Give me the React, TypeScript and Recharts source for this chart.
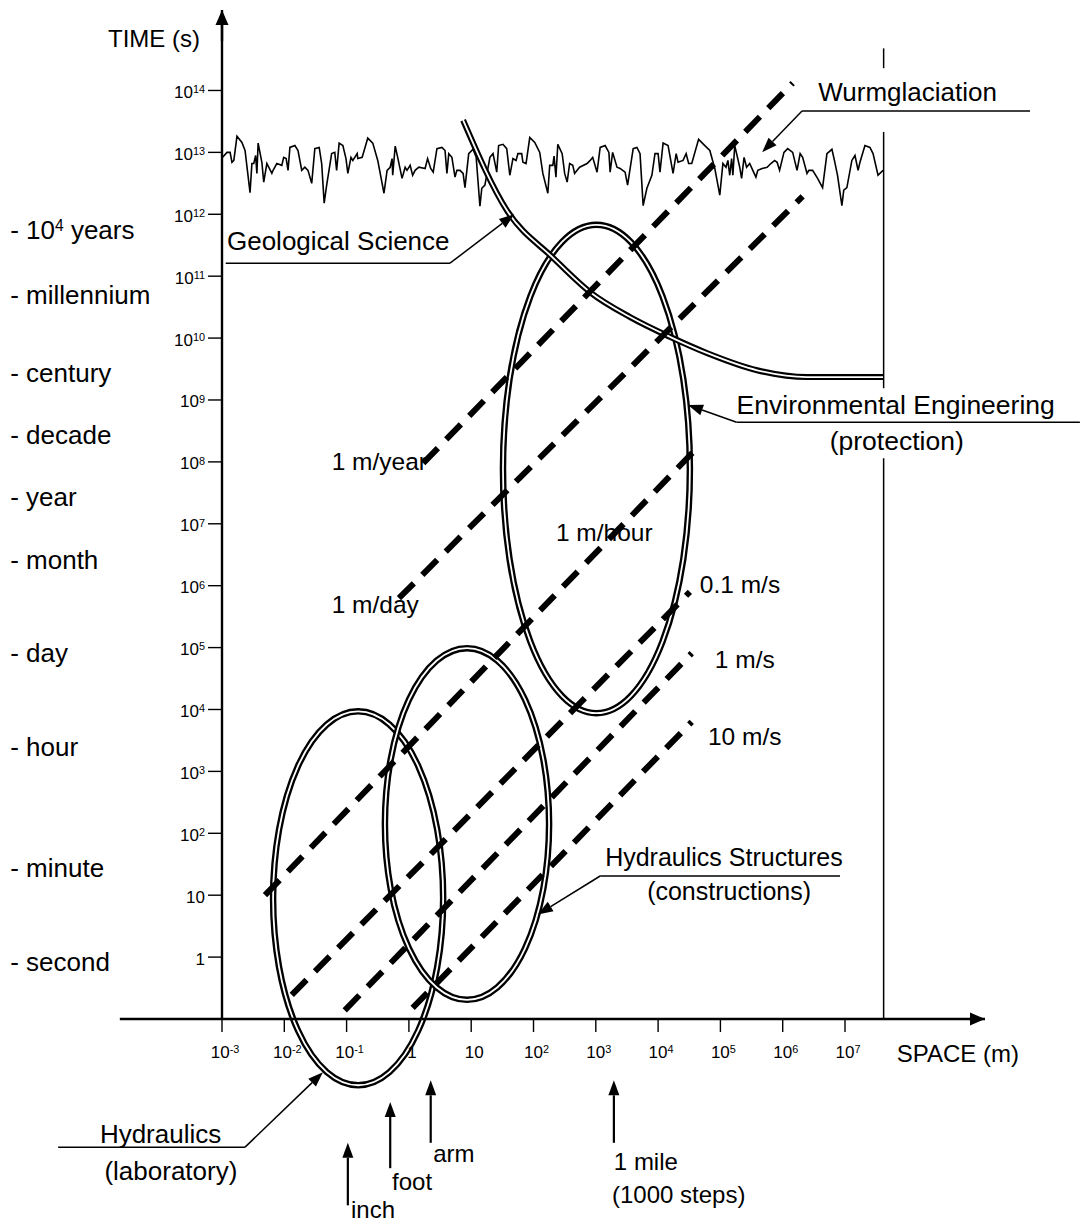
import React from "react";
import {
  ComposedChart, Line, XAxis, YAxis,
  ReferenceArea, ReferenceLine, ReferenceDot,
} from "recharts";

// All coordinates are log10 exponents: space in metres, time in seconds.
const FONT = '"Liberation Sans", Arial, Helvetica, sans-serif';
const INK = "#000";

const SPACE_DOMAIN: [number, number] = [-3, 9.247];
const TIME_DOMAIN: [number, number] = [-1, 15.3];

// ── axis ticks ──
const spaceTicks = [-3, -2, -1, 0, 1, 2, 3, 4, 5, 6, 7];
const timeTicks = [0, 1, 2, 3, 4, 5, 6, 7, 8, 9, 10, 11, 12, 13, 14];

// ── named time scales on the left ──
const timeUnitLabels = [
  "- 10^4 years", "- millennium", "- century", "- decade", "- year",
  "- month", "- day", "- hour", "- minute", "- second",
];
const timeUnitAt = [11.74, 10.69, 9.43, 8.43, 7.43, 6.41, 4.92, 3.4, 1.44, -0.08];

// ── field ellipses: space range x time range ──
const zoneNames = ["Hydraulics (laboratory)", "Hydraulics Structures", "Environmental Engineering"];
const zoneSpace = [[-2.18, 0.55], [-0.385, 2.25], [1.51, 4.51]];
const zoneTime = [[-2.07, 3.97], [-0.69, 4.99], [3.94, 11.83]];

// ── constant-velocity lines (start / end) ──
const speedLabels = ["1 m/year", "1 m/day", "1 m/hour", "0.1 m/s", "1 m/s", "10 m/s"];
const speedFrom = [[0.23, 7.98], [-0.16, 5.8], [-2.31, 1.0], [-1.88, -0.61], [-1.03, -0.86], [0.06, -0.82]];
const speedTo = [[6.16, 14.12], [6.32, 12.29], [4.64, 8.24], [4.51, 5.9], [4.54, 4.91], [4.54, 3.8]];
const speedLabelAt = [[-1.24, 7.87], [-1.24, 5.56], [2.36, 6.72], [4.67, 5.88], [4.91, 4.67], [4.8, 3.42]];

// ── geological science boundary curve ──
const geoSpace = [0.87, 1.575, 2.31, 2.91, 3.55, 4.19, 4.78, 5.59, 6.39, 6.92, 7.61];
const geoTime = [13.52, 12.06, 11.3, 10.74, 10.34, 10.02, 9.76, 9.48, 9.37, 9.37, 9.37];

// ── glacial record (Würm) trace around 10^13 s ──
const noiseSpace = [
  -2.99, -2.92, -2.87, -2.84, -2.81, -2.76, -2.68, -2.63, -2.55, -2.52, -2.49, -2.46, -2.44, -2.42,
  -2.36, -2.33, -2.28, -2.25, -2.2, -2.18, -2.12, -2.04, -2.01, -1.97, -1.94, -1.91, -1.83, -1.78,
  -1.72, -1.67, -1.62, -1.56, -1.51, -1.44, -1.4, -1.36, -1.32, -1.24, -1.19, -1.16, -1.12, -1.06,
  -1.01, -0.98, -0.93, -0.9, -0.83, -0.82, -0.75, -0.66, -0.58, -0.5, -0.4, -0.35, -0.3, -0.27,
  -0.26, -0.22, -0.18, -0.11, -0.06, -0.03, 0.02, 0.06, 0.1, 0.16, 0.26, 0.3, 0.35, 0.39, 0.45,
  0.53, 0.58, 0.61, 0.64, 0.69, 0.74, 0.77, 0.82, 0.87, 0.9, 0.96, 1.03, 1.08, 1.14, 1.17, 1.22,
  1.3, 1.35, 1.41, 1.44, 1.51, 1.57, 1.62, 1.67, 1.72, 1.75, 1.81, 1.83, 1.88, 1.94, 2.02, 2.1,
  2.15, 2.23, 2.26, 2.31, 2.33, 2.36, 2.39, 2.46, 2.5, 2.54, 2.58, 2.63, 2.66, 2.7, 2.74, 2.86,
  2.91, 2.95, 3.02, 3.07, 3.15, 3.21, 3.23, 3.27, 3.34, 3.39, 3.47, 3.51, 3.6, 3.66, 3.71, 3.76,
  3.82, 3.9, 3.95, 4.0, 4.03, 4.08, 4.16, 4.24, 4.29, 4.32, 4.4, 4.45, 4.49, 4.54, 4.65, 4.75,
  4.83, 4.91, 4.99, 5.04, 5.09, 5.12, 5.15, 5.18, 5.2, 5.23, 5.26, 5.31, 5.34, 5.38, 5.42, 5.47,
  5.52, 5.57, 5.6, 5.67, 5.75, 5.81, 5.87, 5.91, 5.95, 6.02, 6.08, 6.16, 6.23, 6.28, 6.32, 6.39,
  6.42, 6.48, 6.56, 6.64, 6.71, 6.79, 6.83, 6.88, 6.95, 6.98, 7.03, 7.11, 7.16, 7.21, 7.24, 7.32,
  7.4, 7.45, 7.53, 7.61,
];
const noiseTime = [
  12.92, 13.0, 13.0, 12.84, 12.87, 13.26, 13.16, 13.03, 12.35, 12.82, 12.82, 12.95, 12.66, 13.15,
  12.84, 12.52, 12.82, 12.76, 12.66, 12.71, 12.82, 12.79, 12.92, 12.9, 12.71, 13.08, 13.11, 13.03,
  12.71, 12.76, 12.71, 12.5, 13.06, 13.08, 12.82, 12.18, 12.47, 12.98, 13.0, 12.71, 13.15, 13.11,
  12.9, 12.66, 12.92, 12.87, 12.98, 12.9, 12.92, 13.23, 13.15, 12.87, 12.34, 12.71, 12.76, 12.9,
  12.63, 13.1, 12.92, 12.58, 12.76, 12.71, 12.79, 12.63, 12.71, 12.76, 12.74, 12.9, 12.74, 12.68, 13.06,
  13.08, 13.03, 12.66, 12.98, 12.92, 12.6, 12.71, 12.71, 12.66, 12.43, 12.98, 13.05, 12.92, 12.13, 12.42, 12.47,
  12.92, 12.98, 12.68, 13.11, 13.13, 13.06, 12.63, 12.9, 12.87, 12.98, 12.98, 12.84, 12.82, 13.24, 13.16, 13.0,
  12.66, 12.34, 12.79, 12.79, 12.94, 12.6, 13.13, 12.98, 12.66, 12.52, 12.82, 12.79, 12.66, 12.71, 12.76, 12.82,
  12.87, 12.92, 12.68, 13.08, 13.11, 13.0, 12.68, 13.0, 12.76, 12.74, 12.68, 12.47, 13.06, 13.08, 12.98, 12.14,
  12.42, 12.63, 12.98, 12.98, 12.68, 13.15, 13.11, 12.66, 12.98, 12.84, 12.87, 12.98, 12.82, 12.82, 13.21, 13.11,
  13.03, 12.74, 12.31, 12.82, 12.76, 12.87, 12.63, 12.9, 12.63, 13.11, 12.98, 12.76, 12.58, 12.92, 12.76, 12.82,
  12.71, 12.6, 12.71, 12.74, 12.76, 12.82, 12.87, 12.84, 12.71, 13.0, 13.06, 13.0, 12.71, 12.98, 12.92, 12.66,
  12.71, 12.71, 12.58, 12.43, 12.98, 13.05, 12.87, 12.63, 12.14, 12.39, 12.43, 12.87, 12.95, 12.71, 12.84, 13.11,
  13.08, 12.98, 12.63, 12.71,
];

// ── right-hand limit of the diagram (broken where labels sit) ──
const limitSpace = 7.62;
const limitRuns = [[14.36, 14.68], [9.19, 13.33], [-1, 8.06]];

// ── callouts: text anchor + leader polyline ending in an arrow ──
const calloutText = ["Geological Science", "Wurmglaciation", "Environmental Engineering", "Hydraulics Structures", "Hydraulics"];
const calloutSub = ["", "", "(protection)", "(constructions)", "(laboratory)"];
const calloutAt = [[-2.92, 11.42], [6.57, 13.83], [5.26, 8.77], [3.15, 1.47], [-4.96, -3.0]];
const calloutSubAt = [[0, 0], [0, 0], [7.83, 8.19], [5.14, 0.92], [-3.82, -3.6]];
const calloutSize = [26, 26, 26.5, 25, 26];
const calloutLeaders = [
  [[-2.94, 11.21], [0.66, 11.21], [1.69, 12.0]],
  [[9.97, 13.67], [6.31, 13.67], [5.67, 13.0]],
  [[10.77, 8.64], [5.26, 8.64], [4.48, 8.92]],
  [[6.92, 1.31], [3.07, 1.31], [2.07, 0.69]],
  [[-5.63, -3.07], [-2.63, -3.07], [-1.38, -1.86]],
];

// ── everyday lengths marked under the space axis ──
const lengthNames = ["inch", "foot", "arm", "1 mile"];
const lengthSpace = [-0.98, -0.3, 0.35, 3.29];
const lengthTail = [-4.01, -3.41, -3.0, -3.0];
const lengthTip = [-3.0, -2.34, -1.99, -1.99];
const lengthLabelAt = [[-0.93, -4.22], [-0.27, -3.76], [0.39, -3.31], [3.29, -3.44]];

const axisTitles = ["TIME (s)", "SPACE (m)"];
const axisTitleAt = [[-4.83, 14.7], [7.83, -1.7]];

const pt = (p: number[]) => ({ x: p[0], y: p[1] });

// text with "^n" superscripts
function RichText({ x, y, text, size = 25, anchor = "start", supScale = 0.62, supRise = 0.32, dy = 0 }: any) {
  const parts = String(text).split(/\^(\S+)/);
  return (
    <text x={x} y={y + dy} fontSize={size} fontFamily={FONT} textAnchor={anchor} fill={INK}>
      {parts.map((p, i) =>
        i % 2 ? (
          <tspan key={i} dy={-size * supRise} fontSize={size * supScale}>{p}</tspan>
        ) : (
          <tspan key={i} dy={i ? size * supRise : 0}>{p}</tspan>
        )
      )}
    </text>
  );
}

const powText = (v: number) => (v === 0 ? "1" : v === 1 ? "10" : `10^${v}`);

function SpaceTick(p: any) {
  return <RichText x={p.x + 3} y={p.y} dy={24} text={powText(p.payload.value)} size={17} anchor="middle" supScale={0.64} supRise={0.27} />;
}

function TimeTick(p: any) {
  return <RichText x={p.x - 1} y={p.y} dy={7.5} text={powText(p.payload.value)} size={17} anchor="end" supScale={0.64} supRise={0.27} />;
}

// line with a filled arrowhead at its (x2, y2) end
const arrowShape = (width: number, len: number, half: number) => (p: any) => {
  const { x1, y1, x2, y2 } = p;
  const a = Math.atan2(y2 - y1, x2 - x1);
  const bx = x2 - len * Math.cos(a);
  const by = y2 - len * Math.sin(a);
  const nx = -Math.sin(a) * half;
  const ny = Math.cos(a) * half;
  return (
    <g>
      <line x1={x1} y1={y1} x2={bx} y2={by} stroke={INK} strokeWidth={width} />
      <path d={`M${x2},${y2}L${bx + nx},${by + ny}L${bx - nx},${by - ny}Z`} fill={INK} />
    </g>
  );
};

// double-outlined ellipse inscribed in the reference box
function ZoneOutline(p: any) {
  const cx = p.x + p.width / 2;
  const cy = p.y + p.height / 2;
  const rx = Math.abs(p.width) / 2;
  const ry = Math.abs(p.height) / 2;
  return (
    <g>
      <ellipse cx={cx} cy={cy} rx={rx} ry={ry} fill="none" stroke={INK} strokeWidth={6.5} />
      <ellipse cx={cx} cy={cy} rx={rx} ry={ry} fill="none" stroke="#fff" strokeWidth={1.8} />
    </g>
  );
}

const note = (key: string, text: string, at: number[], opts: any = {}) => (
  <ReferenceDot
    key={key}
    x={at[0]}
    y={at[1]}
    r={0}
    ifOverflow="visible"
    shape={(p: any) => <RichText x={p.cx} y={p.cy} text={text} {...opts} />}
  />
);

export default function App() {
  const geoData = geoSpace.map((x, i) => ({ x, t: geoTime[i] }));
  const noiseData = noiseSpace.map((x, i) => ({ x, t: noiseTime[i] }));
  const thinArrow = arrowShape(1.5, 15, 5.5);
  const markArrow = arrowShape(2.2, 15, 5.5);
  const axisArrow = arrowShape(2.4, 15, 6.5);

  return (
    <div style={{ position: "absolute", left: 0, top: 0, width: 1081, height: 1225, background: "#fff" }}>
      <ComposedChart width={1081} height={1225} margin={{ top: 10, right: 96, bottom: 166, left: 162 }}>
        <XAxis
          type="number" dataKey="x" domain={SPACE_DOMAIN} allowDataOverflow
          ticks={spaceTicks} interval={0} height={40} tickSize={13}
          axisLine={{ stroke: INK, strokeWidth: 2.4 }}
          tickLine={{ stroke: INK, strokeWidth: 1.4 }}
          tick={(p: any) => <SpaceTick {...p} />}
        />
        <YAxis
          type="number" domain={TIME_DOMAIN} allowDataOverflow
          ticks={timeTicks} interval={0} width={60} tickSize={14}
          axisLine={{ stroke: INK, strokeWidth: 2.4 }}
          tickLine={{ stroke: INK, strokeWidth: 1.4 }}
          tick={(p: any) => <TimeTick {...p} />}
        />

        {/* axis extension to the left and arrow tips */}
        <ReferenceLine segment={[{ x: -4.64, y: -1 }, { x: -3, y: -1 }]} stroke={INK} strokeWidth={2.4} ifOverflow="visible" />
        <ReferenceLine segment={[{ x: 9.0, y: -1 }, { x: 9.247, y: -1 }]} ifOverflow="visible" shape={axisArrow} />
        <ReferenceLine segment={[{ x: -3, y: 14.8 }, { x: -3, y: 15.3 }]} ifOverflow="visible" shape={axisArrow} />

        {/* right limit */}
        {limitRuns.map((r, i) => (
          <ReferenceLine key={`lim${i}`} segment={[{ x: limitSpace, y: r[0] }, { x: limitSpace, y: r[1] }]} stroke={INK} strokeWidth={1.5} ifOverflow="visible" />
        ))}

        {/* glacial trace */}
        <Line data={noiseData} dataKey="t" type="linear" stroke={INK} strokeWidth={1.6} dot={false} activeDot={false} isAnimationActive={false} />

        {/* field ellipses */}
        {zoneSpace.map((sx, i) => (
          <ReferenceArea key={zoneNames[i]} x1={sx[0]} x2={sx[1]} y1={zoneTime[i][0]} y2={zoneTime[i][1]} ifOverflow="visible" shape={ZoneOutline} />
        ))}

        {/* geological boundary */}
        <Line data={geoData} dataKey="t" type="monotone" stroke={INK} strokeWidth={6} dot={false} activeDot={false} isAnimationActive={false} />
        <Line data={geoData} dataKey="t" type="monotone" stroke="#fff" strokeWidth={1.8} dot={false} activeDot={false} isAnimationActive={false} />

        {/* velocity lines */}
        {speedFrom.map((a, i) => (
          <ReferenceLine key={speedLabels[i]} segment={[pt(a), pt(speedTo[i])]} stroke={INK} strokeWidth={6} strokeDasharray="21 12" ifOverflow="visible" />
        ))}

        {/* callout leaders */}
        {calloutLeaders.map((pts, i) =>
          pts.slice(1).map((p, j) => (
            <ReferenceLine
              key={`lead${i}-${j}`}
              segment={[pt(pts[j]), pt(p)]}
              ifOverflow="visible"
              stroke={INK}
              strokeWidth={1.5}
              shape={j === pts.length - 2 ? thinArrow : undefined}
            />
          ))
        )}

        {/* length marks */}
        {lengthSpace.map((x, i) => (
          <ReferenceLine key={lengthNames[i]} segment={[{ x, y: lengthTail[i] }, { x, y: lengthTip[i] }]} ifOverflow="visible" shape={markArrow} />
        ))}

        {/* text */}
        {timeUnitLabels.map((s, i) => note(`tu${i}`, s, [-6.4, timeUnitAt[i]], { size: 26, dy: 9, supScale: 0.6, supRise: 0.34 }))}
        {speedLabels.map((s, i) => note(`sl${i}`, s, speedLabelAt[i], { size: 24.5 }))}
        {calloutText.map((s, i) => note(`co${i}`, s, calloutAt[i], { size: calloutSize[i] }))}
        {calloutSub.map((s, i) => (s ? note(`cs${i}`, s, calloutSubAt[i], { size: calloutSize[i], anchor: "middle" }) : null))}
        {lengthNames.map((s, i) => note(`ln${i}`, s, lengthLabelAt[i], { size: 24 }))}
        {note("steps", "(1000 steps)", [3.26, -3.97], { size: 24 })}
        {axisTitles.map((s, i) => note(`at${i}`, s, axisTitleAt[i], { size: 24 }))}
      </ComposedChart>
    </div>
  );
}
